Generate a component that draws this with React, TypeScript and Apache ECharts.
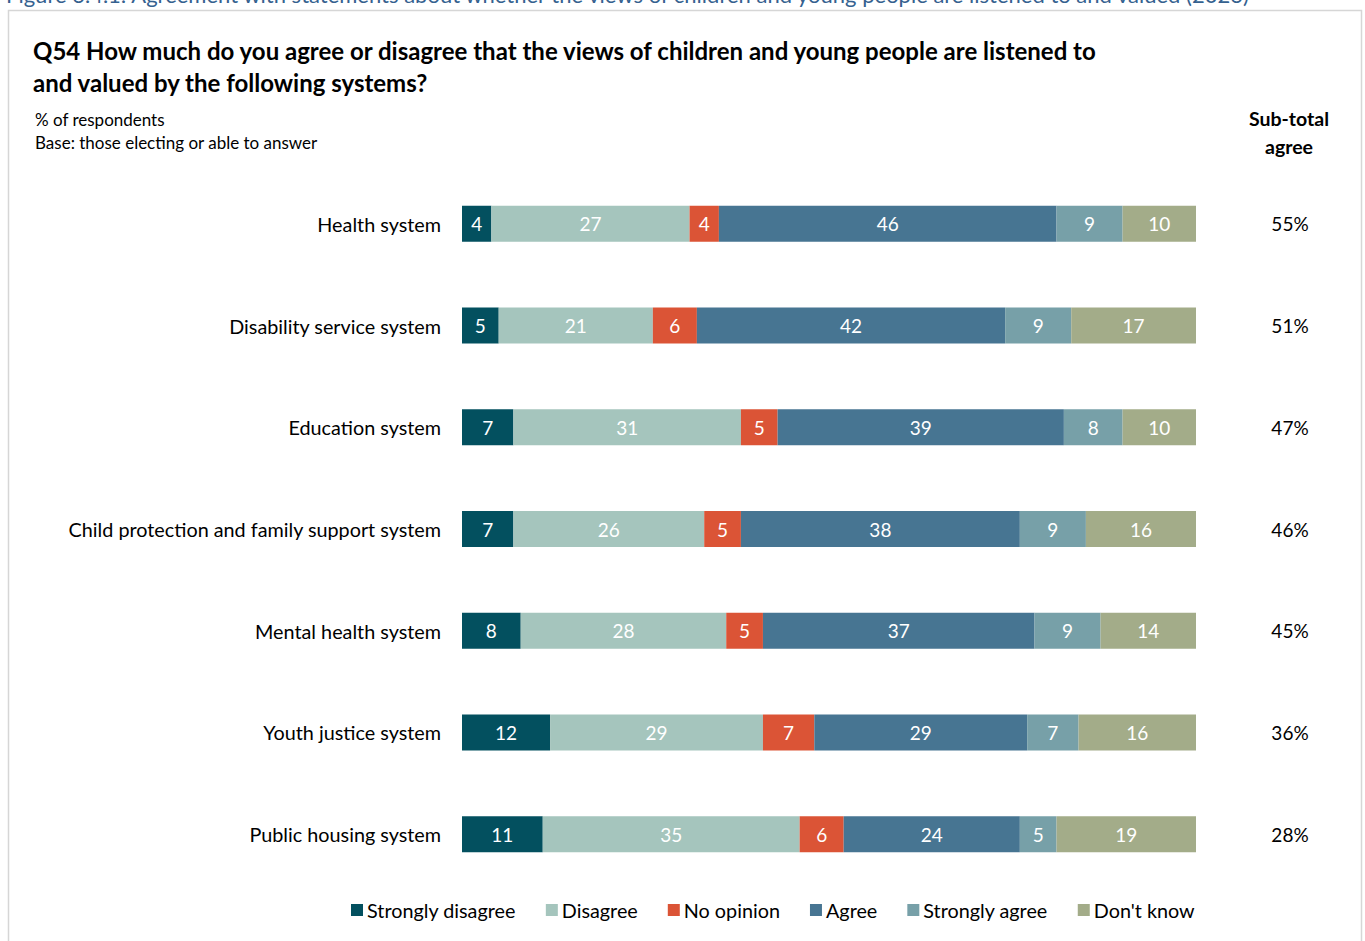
import React, { useEffect, useRef } from "react";
import * as echarts from "echarts";

const categories = [
  "Health system",
  "Disability service system",
  "Education system",
  "Child protection and family support system",
  "Mental health system",
  "Youth justice system",
  "Public housing system",
];
const stronglyDisagree = [4, 5, 7, 7, 8, 12, 11];
const disagree = [27, 21, 31, 26, 28, 29, 35];
const noOpinion = [4, 6, 5, 5, 5, 7, 6];
const agree = [46, 42, 39, 38, 37, 29, 24];
const stronglyAgree = [9, 9, 8, 9, 9, 7, 5];
const dontKnow = [10, 17, 10, 16, 14, 16, 19];
const subTotalAgree = ["55%", "51%", "47%", "46%", "45%", "36%", "28%"];

const seriesNames = ["Strongly disagree", "Disagree", "No opinion", "Agree", "Strongly agree", "Don't know"];
const seriesData = [stronglyDisagree, disagree, noOpinion, agree, stronglyAgree, dontKnow];
const colors = ["#03505f", "#a5c5bd", "#db5436", "#477592", "#77a0a8", "#a3ac89"];

const FONT = "Lato, 'Open Sans', sans-serif";

export default function App() {
  const ref = useRef<HTMLDivElement>(null);
  useEffect(() => {
    if (!ref.current) return;
    const chart = echarts.init(ref.current, null, { renderer: "svg" });
    chart.setOption({
      animation: false,
      backgroundColor: "#ffffff",
      textStyle: { fontFamily: FONT },
      color: colors,
      graphic: [
        {
          type: "rect",
          shape: { x: 8.5, y: 10.5, width: 1353, height: 960 },
          style: { fill: "none", stroke: "#d6d6d6", lineWidth: 1.5 },
          z: -1,
        },
        {
          type: "text",
          x: 6,
          y: 5,
          style: {
            text: "Figure 3.4.1: Agreement with statements about whether the views of children and young people are listened to and valued (2023)",
            fill: "#35618f",
            font: `22px ${FONT}`,
            verticalAlign: "bottom",
          },
        },
        {
          type: "text",
          x: 33,
          y: 66,
          style: {
            text: "Q54 How much do you agree or disagree that the views of children and young people are listened to\nand valued by the following systems?",
            fill: "#000",
            font: `bold 24px ${FONT}`,
            lineHeight: 32,
            verticalAlign: "middle",
          },
        },
        {
          type: "text",
          x: 35,
          y: 131,
          style: {
            text: "% of respondents\nBase: those electing or able to answer",
            fill: "#000",
            font: `17px ${FONT}`,
            lineHeight: 23,
            verticalAlign: "middle",
          },
        },
        {
          type: "text",
          x: 1289,
          y: 132,
          style: {
            text: "Sub-total\nagree",
            fill: "#000",
            font: `bold 19.5px ${FONT}`,
            lineHeight: 28,
            align: "center",
            verticalAlign: "middle",
          },
        },
      ],
      legend: {
        bottom: 16,
        left: 346,
        itemWidth: 12,
        itemHeight: 12,
        itemGap: 30,
        icon: "rect",
        textStyle: { fontSize: 19.8, color: "#000", fontFamily: FONT, padding: [0, 0, 0, -1] },
        data: seriesNames,
      },
      grid: { left: 462, right: 169, top: 173, bottom: 56 },
      xAxis: {
        type: "value",
        min: 0,
        max: 100,
        show: false,
      },
      yAxis: [
        {
          type: "category",
          inverse: true,
          data: categories,
          axisLine: { show: false },
          axisTick: { show: false },
          axisLabel: { fontSize: 19.8, color: "#000", margin: 21, fontFamily: FONT },
        },
        {
          type: "category",
          inverse: true,
          position: "right",
          data: subTotalAgree,
          axisLine: { show: false },
          axisTick: { show: false },
          axisLabel: { fontSize: 19, color: "#000", margin: 94, align: "center", fontFamily: FONT },
        },
      ],
      series: seriesNames.map((name, i) => ({
        name,
        type: "bar",
        stack: "total",
        data: seriesData[i],
        barWidth: 36,
        itemStyle: { color: colors[i] },
        label: {
          show: true,
          position: "inside",
          color: "#ffffff",
          fontSize: 19,
          fontFamily: FONT,
        },
      })),
    });
    return () => chart.dispose();
  }, []);
  return (
    <div
      ref={ref}
      style={{ position: "absolute", left: 0, top: 0, width: 1365, height: 941 }}
    />
  );
}
